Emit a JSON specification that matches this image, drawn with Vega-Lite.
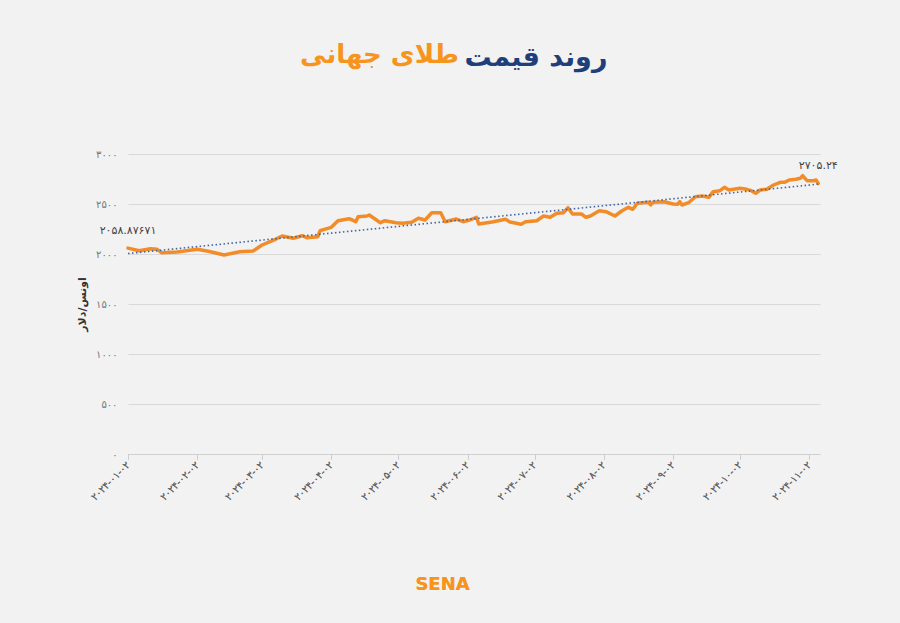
{
  "$schema": "https://vega.github.io/schema/vega-lite/v6.json",
  "width": 692,
  "height": 300,
  "autosize": {"type": "none"},
  "padding": {"left": 128, "top": 154, "right": 80, "bottom": 169},
  "background": "#f2f2f2",
  "config": {"font": "DejaVu Sans", "view": {"stroke": null}},
  "title": {
    "text": "روند قیمت",
    "anchor": "middle",
    "font": "DejaVu Sans",
    "fontSize": 27,
    "fontWeight": "bold",
    "color": "#1f3f7a",
    "offset": -31,
    "dx": 62
  },
  "data": {
    "format": {"parse": {"date": "utc:'%Y-%m-%d'"}},
    "values": [
      {"date": "2024-01-02", "price": 2058.87671, "label": "۲۰۵۸.۸۷۶۷۱"},
      {"date": "2024-01-07", "price": 2033},
      {"date": "2024-01-12", "price": 2053},
      {"date": "2024-01-15", "price": 2047},
      {"date": "2024-01-17", "price": 2013},
      {"date": "2024-01-24", "price": 2020},
      {"date": "2024-02-02", "price": 2047},
      {"date": "2024-02-07", "price": 2027},
      {"date": "2024-02-14", "price": 1990},
      {"date": "2024-02-21", "price": 2023},
      {"date": "2024-02-27", "price": 2030},
      {"date": "2024-03-02", "price": 2090},
      {"date": "2024-03-08", "price": 2147},
      {"date": "2024-03-11", "price": 2180},
      {"date": "2024-03-16", "price": 2157},
      {"date": "2024-03-20", "price": 2183},
      {"date": "2024-03-22", "price": 2163},
      {"date": "2024-03-27", "price": 2173},
      {"date": "2024-03-28", "price": 2233},
      {"date": "2024-04-02", "price": 2267},
      {"date": "2024-04-05", "price": 2333},
      {"date": "2024-04-10", "price": 2353},
      {"date": "2024-04-13", "price": 2323},
      {"date": "2024-04-14", "price": 2373},
      {"date": "2024-04-18", "price": 2380},
      {"date": "2024-04-19", "price": 2390},
      {"date": "2024-04-24", "price": 2313},
      {"date": "2024-04-26", "price": 2333},
      {"date": "2024-05-01", "price": 2313},
      {"date": "2024-05-04", "price": 2307},
      {"date": "2024-05-08", "price": 2317},
      {"date": "2024-05-11", "price": 2357},
      {"date": "2024-05-14", "price": 2340},
      {"date": "2024-05-17", "price": 2413},
      {"date": "2024-05-21", "price": 2413},
      {"date": "2024-05-23", "price": 2323},
      {"date": "2024-05-28", "price": 2350},
      {"date": "2024-05-31", "price": 2323},
      {"date": "2024-06-03", "price": 2340},
      {"date": "2024-06-06", "price": 2367},
      {"date": "2024-06-07", "price": 2300},
      {"date": "2024-06-13", "price": 2320},
      {"date": "2024-06-19", "price": 2347},
      {"date": "2024-06-21", "price": 2320},
      {"date": "2024-06-26", "price": 2297},
      {"date": "2024-06-28", "price": 2323},
      {"date": "2024-07-03", "price": 2333},
      {"date": "2024-07-06", "price": 2380},
      {"date": "2024-07-09", "price": 2367},
      {"date": "2024-07-12", "price": 2407},
      {"date": "2024-07-15", "price": 2413},
      {"date": "2024-07-17", "price": 2463},
      {"date": "2024-07-19", "price": 2400},
      {"date": "2024-07-23", "price": 2400},
      {"date": "2024-07-25", "price": 2367},
      {"date": "2024-07-27", "price": 2380},
      {"date": "2024-07-31", "price": 2433},
      {"date": "2024-08-03", "price": 2423},
      {"date": "2024-08-07", "price": 2380},
      {"date": "2024-08-10", "price": 2430},
      {"date": "2024-08-13", "price": 2467},
      {"date": "2024-08-15", "price": 2447},
      {"date": "2024-08-17", "price": 2507},
      {"date": "2024-08-22", "price": 2517},
      {"date": "2024-08-23", "price": 2490},
      {"date": "2024-08-24", "price": 2517},
      {"date": "2024-08-29", "price": 2523},
      {"date": "2024-09-02", "price": 2500},
      {"date": "2024-09-04", "price": 2497},
      {"date": "2024-09-05", "price": 2523},
      {"date": "2024-09-06", "price": 2490},
      {"date": "2024-09-09", "price": 2513},
      {"date": "2024-09-12", "price": 2573},
      {"date": "2024-09-15", "price": 2580},
      {"date": "2024-09-18", "price": 2567},
      {"date": "2024-09-20", "price": 2623},
      {"date": "2024-09-23", "price": 2633},
      {"date": "2024-09-25", "price": 2667},
      {"date": "2024-09-27", "price": 2640},
      {"date": "2024-10-02", "price": 2657},
      {"date": "2024-10-05", "price": 2647},
      {"date": "2024-10-07", "price": 2633},
      {"date": "2024-10-09", "price": 2607},
      {"date": "2024-10-11", "price": 2640},
      {"date": "2024-10-14", "price": 2647},
      {"date": "2024-10-17", "price": 2690},
      {"date": "2024-10-20", "price": 2717},
      {"date": "2024-10-22", "price": 2717},
      {"date": "2024-10-24", "price": 2740},
      {"date": "2024-10-27", "price": 2747},
      {"date": "2024-10-29", "price": 2757},
      {"date": "2024-10-30", "price": 2783},
      {"date": "2024-11-01", "price": 2733},
      {"date": "2024-11-04", "price": 2733},
      {"date": "2024-11-05", "price": 2740},
      {"date": "2024-11-06", "price": 2705.24, "label": "۲۷۰۵.۲۴"}
    ]
  },
  "encoding": {
    "x": {
      "field": "date",
      "type": "temporal",
      "scale": {
        "type": "utc",
        "domain": [
          {"year": 2024, "month": 1, "date": 2, "utc": true},
          {"year": 2024, "month": 11, "date": 6, "hours": 19, "utc": true}
        ]
      },
      "axis": {
        "values": [
          {"year": 2024, "month": 1, "date": 2, "utc": true},
          {"year": 2024, "month": 2, "date": 2, "utc": true},
          {"year": 2024, "month": 3, "date": 2, "utc": true},
          {"year": 2024, "month": 4, "date": 2, "utc": true},
          {"year": 2024, "month": 5, "date": 2, "utc": true},
          {"year": 2024, "month": 6, "date": 2, "utc": true},
          {"year": 2024, "month": 7, "date": 2, "utc": true},
          {"year": 2024, "month": 8, "date": 2, "utc": true},
          {"year": 2024, "month": 9, "date": 2, "utc": true},
          {"year": 2024, "month": 10, "date": 2, "utc": true},
          {"year": 2024, "month": 11, "date": 2, "utc": true}
        ],
        "labelExpr": "replace(replace(replace(replace(replace(replace(replace(replace(replace(replace(utcFormat(datum.value,'%Y-%m-%d'),regexp('0','g'),'۰'),regexp('1','g'),'۱'),regexp('2','g'),'۲'),regexp('3','g'),'۳'),regexp('4','g'),'۴'),regexp('5','g'),'۵'),regexp('6','g'),'۶'),regexp('7','g'),'۷'),regexp('8','g'),'۸'),regexp('9','g'),'۹')",
        "labelAngle": -45,
        "labelAlign": "right",
        "labelBaseline": "middle",
        "labelFontSize": 10,
        "labelColor": "#666666",
        "labelPadding": 4,
        "grid": false,
        "domainColor": "#d0d0d0",
        "tickColor": "#cccccc",
        "tickSize": 5,
        "title": "SENA",
        "titleColor": "#f7941d",
        "titleFontSize": 18,
        "titleFontWeight": "bold",
        "titleX": 314,
        "titleY": 130,
        "titleBaseline": "middle",
        "titleAlign": "center"
      }
    },
    "y": {
      "field": "price",
      "type": "quantitative",
      "scale": {"domain": [0, 3000], "nice": false},
      "axis": {
        "values": [0, 500, 1000, 1500, 2000, 2500, 3000],
        "format": "d",
        "labelExpr": "replace(replace(replace(replace(replace(replace(replace(replace(replace(replace(datum.label,regexp('0','g'),'۰'),regexp('1','g'),'۱'),regexp('2','g'),'۲'),regexp('3','g'),'۳'),regexp('4','g'),'۴'),regexp('5','g'),'۵'),regexp('6','g'),'۶'),regexp('7','g'),'۷'),regexp('8','g'),'۸'),regexp('9','g'),'۹')",
        "labelFontSize": 10,
        "labelColor": "#777777",
        "labelPadding": 11,
        "domain": false,
        "ticks": false,
        "gridColor": "#d9d9d9",
        "title": "اونس/دلار",
        "titleFontSize": 11,
        "titleFontWeight": "bold",
        "titleColor": "#333333",
        "titlePadding": 8
      }
    }
  },
  "layer": [
    {
      "mark": {"type": "line", "color": "#f28c28", "strokeWidth": 3.5, "strokeJoin": "round", "strokeCap": "round"}
    },
    {
      "transform": [{"regression": "price", "on": "date"}],
      "mark": {"type": "line", "color": "#3f63a6", "strokeWidth": 1.6, "strokeDash": [1.5, 2.5]},
      "encoding": {
        "x": {
          "field": "date",
          "type": "temporal",
          "axis": {
            "orient": "top",
            "labels": false,
            "ticks": false,
            "domain": false,
            "grid": false,
            "title": "طلای جهانی",
            "titleColor": "#f7941d",
            "titleFont": "DejaVu Sans",
            "titleFontSize": 26,
            "titleFontWeight": "bold",
            "titleX": 251,
            "titleY": -92,
            "titleBaseline": "alphabetic",
            "titleAlign": "center"
          }
        }
      }
    },
    {
      "transform": [{"filter": "isValid(datum.label)"}],
      "mark": {"type": "text", "align": "center", "baseline": "middle", "dy": -17, "fontSize": 11, "color": "#444444"},
      "encoding": {"text": {"field": "label"}}
    }
  ],
  "resolve": {"axis": {"x": "independent"}}
}
